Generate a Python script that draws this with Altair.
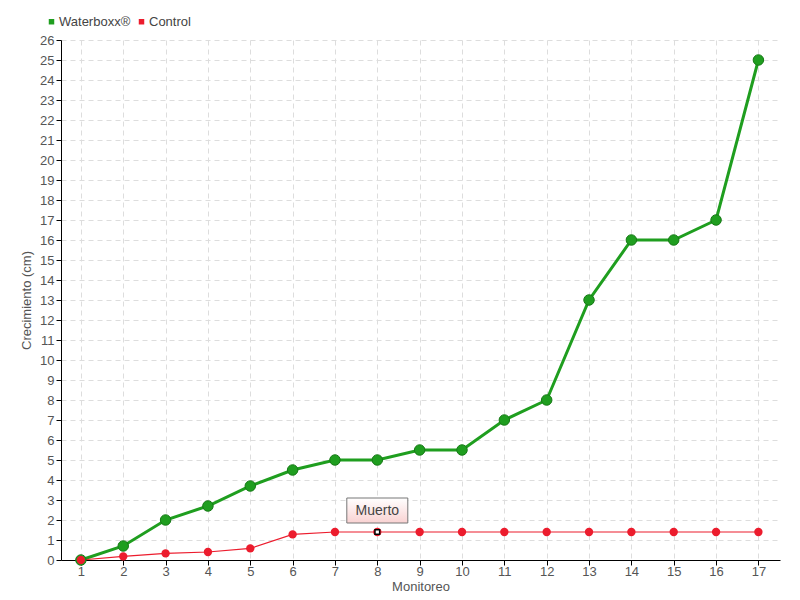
import altair as alt
import pandas as pd

monitoreo = list(range(1, 18))
waterboxx = [0, 0.7, 2, 2.7, 3.7, 4.5, 5, 5, 5.5, 5.5, 7, 8, 13, 16, 16, 17, 25]
control = [0, 0.18, 0.33, 0.4, 0.58, 1.28, 1.4, 1.4, 1.4, 1.4, 1.4, 1.4, 1.4, 1.4, 1.4, 1.4, 1.4]
series_names = ["Waterboxx®", "Control"]
series_colors = ["#1f9e1f", "#ec1c2d"]
y_ticks = list(range(0, 27))
annot_x = [8]
annot_y = [1.4]
annot_text = ["Muerto"]

FONT = "Liberation Sans"

df = pd.DataFrame({
    "Monitoreo": monitoreo * 2,
    "Crecimiento": waterboxx + control,
    "serie": [series_names[0]] * 17 + [series_names[1]] * 17,
})
ann = pd.DataFrame({"Monitoreo": annot_x, "Crecimiento": annot_y, "label": annot_text})

x = alt.X("Monitoreo:Q", title="Monitoreo",
          scale=alt.Scale(domain=[0.53, 17.51], nice=False, zero=False),
          axis=alt.Axis(values=monitoreo, format="d", grid=True, gridDash=[5, 4],
                        gridColor="#dddddd", domainColor="#000000", tickColor="#000000",
                        tickSize=5, labelColor="#555555", labelFontSize=13, labelFont=FONT,
                        titleFont=FONT, titleFontSize=13, titleFontWeight="normal",
                        titleColor="#555555", titlePadding=2, labelPadding=0,
                        labelOverlap=False))
y = alt.Y("Crecimiento:Q", title="Crecimiento (cm)",
          scale=alt.Scale(domain=[0, 26], nice=False),
          axis=alt.Axis(values=y_ticks, format="d", grid=True, gridDash=[5, 4],
                        gridColor="#dddddd", domainColor="#000000", tickColor="#000000",
                        tickSize=5, labelColor="#555555", labelFontSize=13, labelFont=FONT,
                        titleFont=FONT, titleFontSize=13, titleFontWeight="normal",
                        titleColor="#555555", titlePadding=6, labelOverlap=False))
color = alt.Color("serie:N", scale=alt.Scale(domain=series_names, range=series_colors),
                  legend=alt.Legend(title=None, orient="none", direction="horizontal",
                                    legendX=-16, legendY=-25, symbolType="square",
                                    symbolSize=30, symbolStrokeWidth=0, labelFont=FONT,
                                    labelFontSize=13, labelColor="#444444", columnPadding=4,
                                    labelOffset=1))

base = alt.Chart(df)
line_w = base.transform_filter(alt.datum.serie == series_names[0]).mark_line(strokeWidth=3).encode(
    x=x, y=y, color=color)
line_c = base.transform_filter(alt.datum.serie == series_names[1]).mark_line(strokeWidth=1.2).encode(
    x=x, y=y, color=color)
pts_w = base.transform_filter(alt.datum.serie == series_names[0]).mark_circle(
    opacity=1, size=110, stroke="#177a17", strokeWidth=1).encode(x=x, y=y, color=color)
pts_c = base.transform_filter(alt.datum.serie == series_names[1]).mark_circle(
    opacity=1, size=70).encode(x=x, y=y, color=color)

a = alt.Chart(ann)
marker = a.mark_square(fill="white", stroke="black", strokeWidth=1.5, size=22, opacity=1).encode(x=x, y=y)
box = a.mark_rect(
    width=61, height=25, yOffset=-21.5, stroke="#777777", strokeWidth=1,
    fill=alt.Gradient(gradient="linear", x1=0, y1=0, x2=0, y2=1,
                      stops=[alt.GradientStop(color="#ffffff", offset=0),
                             alt.GradientStop(color="#f9d2d2", offset=1)])
).encode(x=x, y=y)
text = a.mark_text(font=FONT, fontSize=14, color="#444444", yOffset=-21).encode(
    x=x, y=y, text="label:N")

chart = alt.layer(line_w, line_c, pts_w, pts_c, marker, box, text).properties(
    width=719, height=520, autosize=alt.AutoSizeParams(type="none"),
    padding={"left": 53, "top": 32, "right": 10, "bottom": 38},
).configure_view(stroke=None).configure_axis(labelFont=FONT)

chart.save("out.html", embed_options={"renderer": "svg", "actions": False})
